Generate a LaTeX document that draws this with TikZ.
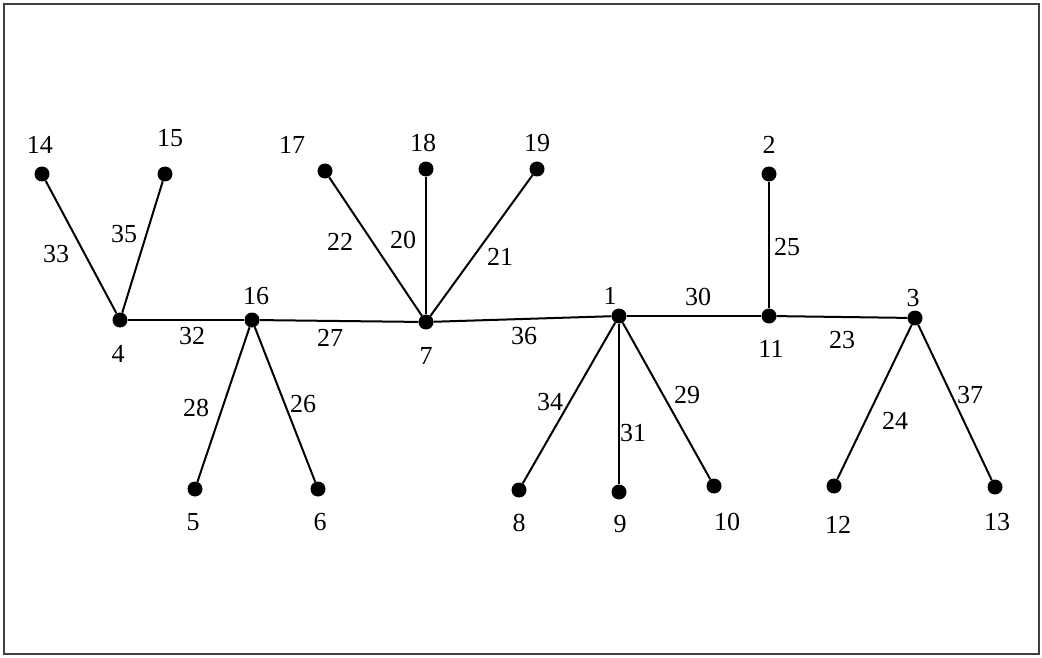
\documentclass[tikz,border=0pt]{standalone}
\usepackage{fontspec}
\setmainfont{Liberation Serif}
\begin{document}
\begin{tikzpicture}[x=1pt,y=-1pt,
  vtx/.style={circle,fill=black,inner sep=0pt,minimum size=15pt},
  lbl/.style={inner sep=0pt,font=\fontsize{26}{30}\selectfont},
  edge/.style={line width=2pt}]
\useasboundingbox (0,0) rectangle (1042,658);
\draw[line width=2pt,black!75] (4,4) rectangle (1039,654);
% vertices
\node[vtx] (v14) at (42,174) {};
\node[vtx] (v15) at (165,174) {};
\node[vtx] (v17) at (325,171) {};
\node[vtx] (v18) at (426,169) {};
\node[vtx] (v19) at (537,169) {};
\node[vtx] (v2) at (769,174) {};
\node[vtx] (v4) at (120,320) {};
\node[vtx] (v16) at (252,320) {};
\node[vtx] (v7) at (426,322) {};
\node[vtx] (v1) at (619,316) {};
\node[vtx] (v11) at (769,316) {};
\node[vtx] (v3) at (915,318) {};
\node[vtx] (v5) at (195,489) {};
\node[vtx] (v6) at (318,489) {};
\node[vtx] (v8) at (519,490) {};
\node[vtx] (v9) at (619,492) {};
\node[vtx] (v10) at (714,486) {};
\node[vtx] (v12) at (834,486) {};
\node[vtx] (v13) at (995,487) {};
% vertex labels
\node[lbl] (t14) at (40,145) {14};
\node[lbl] (t15) at (170,138) {15};
\node[lbl] (t17) at (292,145) {17};
\node[lbl] (t18) at (423,143) {18};
\node[lbl] (t19) at (537,143) {19};
\node[lbl] (t2) at (769,145) {2};
\node[lbl] (t4) at (118,354) {4};
\node[lbl] (t16) at (256,296) {16};
\node[lbl] (t7) at (426,356) {7};
\node[lbl] (t1) at (610,296) {1};
\node[lbl] (t11) at (771,349) {11};
\node[lbl] (t3) at (913,298) {3};
\node[lbl] (t5) at (193,522) {5};
\node[lbl] (t6) at (320,522) {6};
\node[lbl] (t8) at (519,523) {8};
\node[lbl] (t9) at (620,524) {9};
\node[lbl] (t10) at (727,522) {10};
\node[lbl] (t12) at (838,525) {12};
\node[lbl] (t13) at (997,522) {13};
% edges
\draw[edge] (v4) -- (v14);
\draw[edge] (v4) -- (v15);
\draw[edge] (v7) -- (v17);
\draw[edge] (v7) -- (v18);
\draw[edge] (v7) -- (v19);
\draw[edge] (v4) -- (v16);
\draw[edge] (v16) -- (v7);
\draw[edge] (v7) -- (v1);
\draw[edge] (v1) -- (v11);
\draw[edge] (v11) -- (v2);
\draw[edge] (v11) -- (v3);
\draw[edge] (v16) -- (v5);
\draw[edge] (v16) -- (v6);
\draw[edge] (v1) -- (v8);
\draw[edge] (v1) -- (v9);
\draw[edge] (v1) -- (v10);
\draw[edge] (v3) -- (v12);
\draw[edge] (v3) -- (v13);
% edge labels
\node[lbl] (e33) at (56,254) {33};
\node[lbl] (e35) at (124,234) {35};
\node[lbl] (e22) at (340,242) {22};
\node[lbl] (e20) at (403,240) {20};
\node[lbl] (e21) at (500,257) {21};
\node[lbl] (e32) at (192,336) {32};
\node[lbl] (e27) at (330,338) {27};
\node[lbl] (e36) at (524,336) {36};
\node[lbl] (e30) at (698,297) {30};
\node[lbl] (e25) at (787,247) {25};
\node[lbl] (e23) at (842,340) {23};
\node[lbl] (e28) at (196,408) {28};
\node[lbl] (e26) at (303,404) {26};
\node[lbl] (e34) at (550,402) {34};
\node[lbl] (e31) at (633,433) {31};
\node[lbl] (e29) at (687,395) {29};
\node[lbl] (e24) at (895,421) {24};
\node[lbl] (e37) at (970,395) {37};
\end{tikzpicture}
\end{document}
